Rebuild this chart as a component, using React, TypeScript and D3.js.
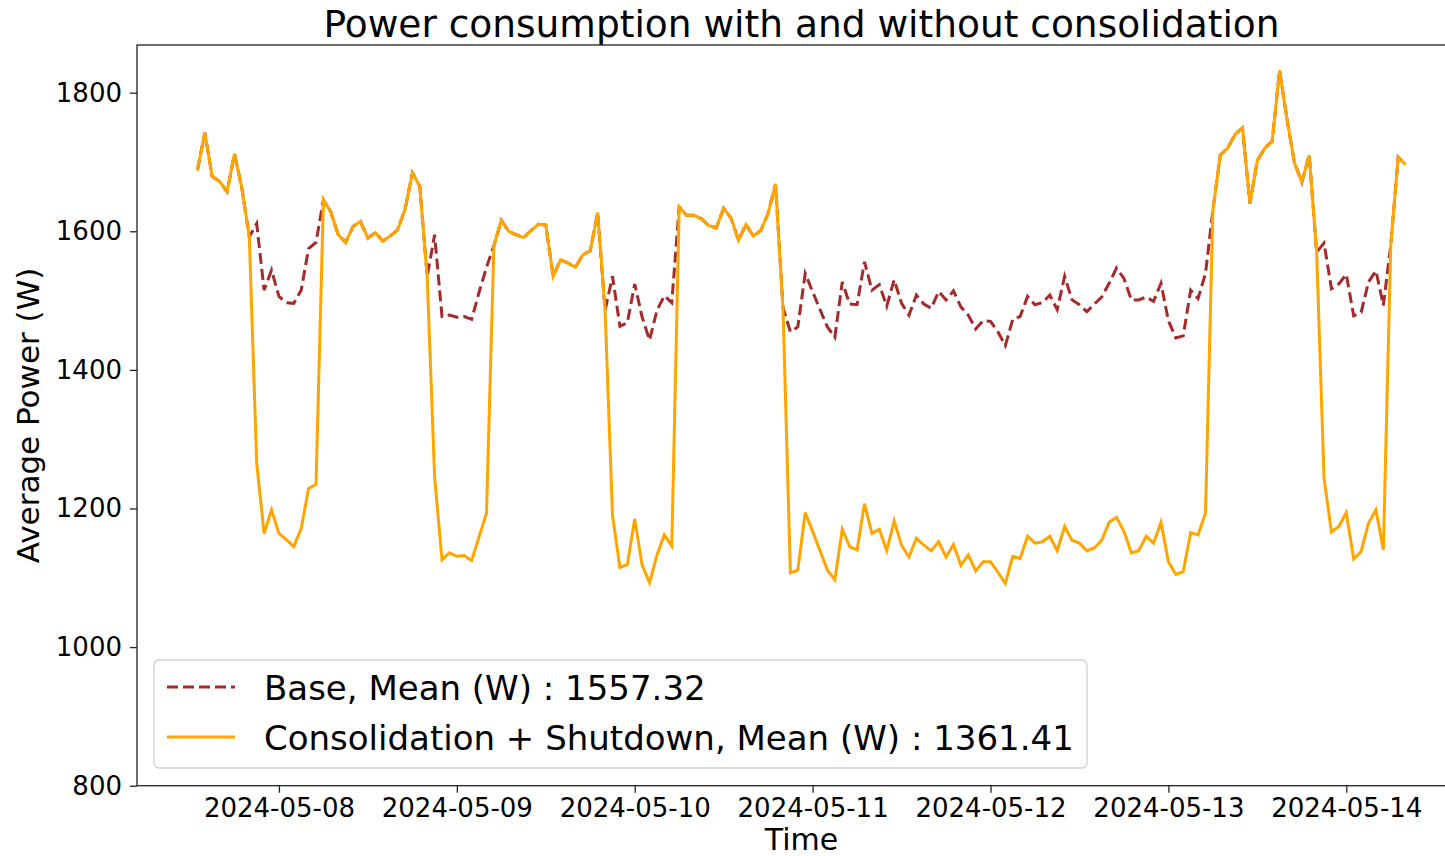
import React, { useRef, useEffect } from 'react';
import * as d3 from 'd3';

const width = 1445;
const height = 856;
const margin = { left: 137, top: 45, right: 1466, bottom: 785.7 };

const FONT = '"DejaVu Sans", sans-serif';

// hourly samples starting 2024-05-07 13:00
const startTime = Date.UTC(2024, 4, 7, 13);

const consolidation = [
    1688, 1742, 1679, 1672, 1657, 1712, 1662, 1592, 1265, 1164,
    1198, 1164, 1155, 1145, 1171, 1229, 1235, 1645, 1628, 1595,
    1584, 1607, 1614, 1590, 1598, 1586, 1593, 1602, 1631, 1684,
    1665, 1535, 1246, 1126, 1136, 1131, 1132, 1125, 1159, 1193,
    1579, 1616, 1600, 1595, 1591, 1601, 1610, 1609, 1535, 1559,
    1554, 1548, 1566, 1572, 1627, 1486, 1190, 1115, 1119, 1185,
    1118, 1093, 1133, 1162, 1146, 1635, 1623, 1623, 1618, 1608,
    1605, 1633, 1619, 1587, 1610, 1593, 1601, 1626, 1668, 1490,
    1107, 1111, 1194, 1167, 1139, 1111, 1097, 1170, 1145, 1140,
    1207, 1164, 1170, 1139, 1182, 1147, 1130, 1157, 1147, 1139,
    1152, 1130, 1148, 1118, 1133, 1110, 1123, 1123, 1108, 1092,
    1131, 1128, 1160, 1150, 1152, 1160, 1139, 1174, 1154, 1150,
    1139, 1143, 1154, 1180, 1187, 1167, 1136, 1139, 1160, 1150,
    1180, 1123, 1105, 1109, 1165, 1162, 1193, 1630, 1710, 1720,
    1740, 1749, 1640, 1702, 1720, 1730, 1832, 1762, 1699, 1671,
    1710, 1570, 1243, 1166, 1174, 1194, 1127, 1138, 1179, 1198,
    1140, 1580, 1707, 1696
];

const base = [
    1688, 1742, 1679, 1672, 1657, 1712, 1662, 1592, 1611, 1515,
    1544, 1506, 1497, 1496, 1515, 1575, 1584, 1645, 1628, 1595,
    1584, 1607, 1614, 1590, 1598, 1586, 1593, 1602, 1631, 1684,
    1665, 1535, 1595, 1477, 1479, 1476, 1477, 1473, 1512, 1548,
    1579, 1616, 1600, 1595, 1591, 1601, 1610, 1609, 1535, 1559,
    1554, 1548, 1566, 1572, 1627, 1486, 1535, 1463, 1468, 1524,
    1476, 1443, 1486, 1507, 1497, 1635, 1623, 1623, 1618, 1608,
    1605, 1633, 1619, 1587, 1610, 1593, 1601, 1626, 1668, 1490,
    1455, 1462, 1539, 1513, 1487, 1462, 1447, 1527, 1495, 1494,
    1556, 1515, 1523, 1492, 1530, 1496, 1479, 1508, 1495, 1489,
    1513, 1501, 1514, 1491, 1479, 1459, 1471, 1470, 1455, 1435,
    1473, 1477, 1506, 1494, 1497, 1508, 1487, 1535, 1501, 1494,
    1484, 1495, 1505, 1525, 1547, 1532, 1501, 1501, 1505, 1499,
    1525, 1471, 1446, 1449, 1515, 1503, 1539, 1630, 1710, 1720,
    1740, 1749, 1640, 1702, 1720, 1730, 1832, 1762, 1699, 1671,
    1710, 1570, 1583, 1517, 1524, 1538, 1478, 1483, 1527, 1543,
    1493, 1580, 1707, 1696
];

const yTicks = [800, 1000, 1200, 1400, 1600, 1800];

const legendLabels = [
    'Base, Mean (W) : 1557.32',
    'Consolidation + Shutdown, Mean (W) : 1361.41'
];

const times = base.map((_, i) => new Date(startTime + i * 3600 * 1000));

// matplotlib-like 5% padding on x
const span = times[times.length - 1].getTime() - times[0].getTime();
const pad = span * 0.05;

const x = d3.scaleUtc()
    .domain([new Date(times[0].getTime() - pad), new Date(times[times.length - 1].getTime() + pad)])
    .range([margin.left, margin.right]);

const y = d3.scaleLinear()
    .domain([800, 1868.8])
    .range([margin.bottom, margin.top]);

const line = d3.line<number>()
    .x((_, i) => x(times[i]))
    .y(d => y(d));

export default function App() {
    const xAxisRef = useRef<SVGGElement>(null);
    const yAxisRef = useRef<SVGGElement>(null);

    useEffect(() => {
        const xAxis = d3.axisBottom(x)
            .ticks(d3.utcDay.every(1))
            .tickFormat(d3.utcFormat('%Y-%m-%d') as any)
            .tickSize(7)
            .tickSizeOuter(0)
            .tickPadding(6);
        const gx = d3.select(xAxisRef.current);
        gx.call(xAxis as any);
        gx.select('.domain').remove();
        gx.selectAll('text').attr('font-size', 26).attr('font-family', FONT).attr('fill', '#000');
        gx.selectAll('line').attr('stroke', '#222').attr('stroke-width', 1.3);

        const yAxis = d3.axisLeft(y)
            .tickValues(yTicks)
            .tickFormat(d3.format('d') as any)
            .tickSize(7)
            .tickSizeOuter(0)
            .tickPadding(8);
        const gy = d3.select(yAxisRef.current);
        gy.call(yAxis as any);
        gy.select('.domain').remove();
        gy.selectAll('text').attr('font-size', 26).attr('font-family', FONT).attr('fill', '#000');
        gy.selectAll('line').attr('stroke', '#222').attr('stroke-width', 1.3);
    }, []);

    return (
        <svg width={width} height={height} style={{ position: 'absolute', left: 0, top: 0, background: '#fff' }}>
            <text x={(margin.left + margin.right) / 2} y={36.5} textAnchor="middle"
                fontFamily={FONT} fontSize={37.5}>Power consumption with and without consolidation</text>

            <path d={line(base) || ''} fill="none" stroke="#a52a2a" strokeWidth={3}
                strokeDasharray="11,5" />
            <path d={line(consolidation) || ''} fill="none" stroke="#ffa500" strokeWidth={3} />

            <rect x={margin.left} y={margin.top} width={margin.right - margin.left}
                height={margin.bottom - margin.top} fill="none" stroke="#222" strokeWidth={1.3} />

            <g ref={xAxisRef} transform={`translate(0,${margin.bottom})`} />
            <g ref={yAxisRef} transform={`translate(${margin.left},0)`} />

            <text x={(margin.left + margin.right) / 2} y={850} textAnchor="middle"
                fontFamily={FONT} fontSize={30}>Time</text>
            <text transform={`translate(39,${(margin.top + margin.bottom) / 2}) rotate(-90)`}
                textAnchor="middle" fontFamily={FONT} fontSize={31}>Average Power (W)</text>

            <g>
                <rect x={154} y={660} width={933} height={108} rx={5} fill="#fff" fillOpacity={0.8}
                    stroke="#d0d0d0" strokeWidth={1.3} />
                <line x1={167} x2={235} y1={687} y2={687} stroke="#a52a2a" strokeWidth={3}
                    strokeDasharray="11,5" />
                <line x1={167} x2={235} y1={737} y2={737} stroke="#ffa500" strokeWidth={3} />
                <text x={264} y={700} fontFamily={FONT} fontSize={34}>{legendLabels[0]}</text>
                <text x={264} y={750} fontFamily={FONT} fontSize={34}>{legendLabels[1]}</text>
            </g>
        </svg>
    );
}
